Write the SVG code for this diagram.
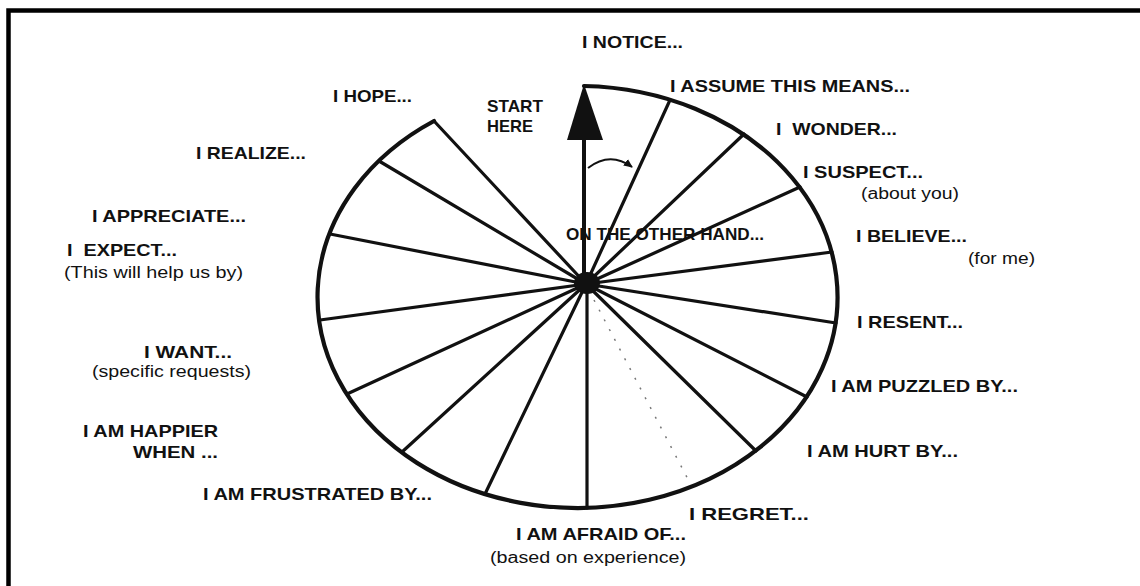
<svg xmlns="http://www.w3.org/2000/svg" width="1140" height="586" viewBox="0 0 1140 586">
<style>
.lb{font-family:"Liberation Sans",Arial,sans-serif;font-weight:bold;font-size:17px;fill:#111}
.sub{font-family:"Liberation Sans",Arial,sans-serif;font-size:16px;fill:#111}
.spoke{stroke:#111;stroke-width:3.2;stroke-linecap:round;fill:none}
.rim{stroke:#111;stroke-width:4.2;stroke-linecap:round;fill:none}
</style>
<defs>
<marker id="ah" markerUnits="userSpaceOnUse" markerWidth="10" markerHeight="10" refX="8" refY="5" orient="auto">
<path d="M0,1 L9,5 L0,9 z" fill="#111"/>
</marker>
</defs>
<rect width="1140" height="586" fill="#fff"/>
<path d="M8.5,586 V10.5 H1140" stroke="#000" stroke-width="4.5" fill="none"/>

<g id="n-otherhand"><text class="lb" x="566" y="240" textLength="198" lengthAdjust="spacingAndGlyphs">ON THE OTHER HAND...</text></g>

<g id="wheel">
<path class="rim" d="M584,86 A260,211 0 1,1 434,121"/>
</g>

<g id="connectors">
<line class="spoke" x1="584" y1="284" x2="584" y2="138" style="stroke-width:4"/>
<path d="M584,84 L567,140 L603,140 Z" fill="#111"/>
<line class="spoke" x1="586" y1="284" x2="670" y2="100"/>
<line class="spoke" x1="586" y1="284" x2="744" y2="134"/>
<line class="spoke" x1="586" y1="284" x2="800" y2="187"/>
<line class="spoke" x1="586" y1="284" x2="832" y2="252"/>
<line class="spoke" x1="586" y1="284" x2="836" y2="323"/>
<line class="spoke" x1="586" y1="284" x2="807" y2="397"/>
<line class="spoke" x1="586" y1="284" x2="756" y2="451"/>
<line class="spoke" x1="587" y1="284" x2="587" y2="508"/>
<line class="spoke" x1="586" y1="284" x2="485" y2="494"/>
<line class="spoke" x1="586" y1="284" x2="402" y2="452"/>
<line class="spoke" x1="586" y1="284" x2="347" y2="394"/>
<line class="spoke" x1="586" y1="284" x2="320" y2="320"/>
<line class="spoke" x1="586" y1="284" x2="330" y2="234"/>
<line class="spoke" x1="586" y1="284" x2="379" y2="161"/>
<line class="spoke" x1="586" y1="284" x2="434" y2="121"/>
<line x1="594" y1="300" x2="691" y2="485" stroke="#777" stroke-width="1.5" stroke-dasharray="2 9"/>
<path d="M588,168 Q610,151 632,167" stroke="#111" stroke-width="2" fill="none" marker-end="url(#ah)"/>
<ellipse cx="587" cy="283" rx="13" ry="11" fill="#111"/>
</g>

<g id="n-notice"><text class="lb" x="582" y="48" textLength="101" lengthAdjust="spacingAndGlyphs">I NOTICE...</text></g>
<g id="n-assume"><text class="lb" x="670" y="92" textLength="240" lengthAdjust="spacingAndGlyphs">I ASSUME THIS MEANS...</text></g>
<g id="n-wonder"><text class="lb" x="776" y="135" textLength="121" lengthAdjust="spacingAndGlyphs" xml:space="preserve">I  WONDER...</text></g>
<g id="n-suspect"><text class="lb" x="803" y="178" textLength="120" lengthAdjust="spacingAndGlyphs">I SUSPECT...</text>
<text class="sub" x="861" y="199" textLength="98" lengthAdjust="spacingAndGlyphs">(about you)</text></g>
<g id="n-believe"><text class="lb" x="856" y="242" textLength="111" lengthAdjust="spacingAndGlyphs">I BELIEVE...</text>
<text class="sub" x="968" y="264" textLength="67" lengthAdjust="spacingAndGlyphs">(for me)</text></g>
<g id="n-resent"><text class="lb" x="857" y="328" textLength="106" lengthAdjust="spacingAndGlyphs">I RESENT...</text></g>
<g id="n-puzzled"><text class="lb" x="831" y="392" textLength="187" lengthAdjust="spacingAndGlyphs">I AM PUZZLED BY...</text></g>
<g id="n-hurt"><text class="lb" x="807" y="457" textLength="151" lengthAdjust="spacingAndGlyphs">I AM HURT BY...</text></g>
<g id="n-regret"><text class="lb" x="689" y="520" textLength="120" lengthAdjust="spacingAndGlyphs">I REGRET...</text></g>
<g id="n-afraid"><text class="lb" x="516" y="540" textLength="170" lengthAdjust="spacingAndGlyphs">I AM AFRAID OF...</text>
<text class="sub" x="490" y="563" textLength="196" lengthAdjust="spacingAndGlyphs">(based on experience)</text></g>
<g id="n-frustrated"><text class="lb" x="203" y="500" textLength="229" lengthAdjust="spacingAndGlyphs">I AM FRUSTRATED BY...</text></g>
<g id="n-happier"><text class="lb" x="83" y="437" textLength="135" lengthAdjust="spacingAndGlyphs">I AM HAPPIER</text>
<text class="lb" x="133" y="458" textLength="85" lengthAdjust="spacingAndGlyphs">WHEN ...</text></g>
<g id="n-want"><text class="lb" x="144" y="358" textLength="88" lengthAdjust="spacingAndGlyphs">I WANT...</text>
<text class="sub" x="92" y="377" textLength="159" lengthAdjust="spacingAndGlyphs">(specific requests)</text></g>
<g id="n-expect"><text class="lb" x="67" y="256" textLength="110" lengthAdjust="spacingAndGlyphs" xml:space="preserve">I  EXPECT...</text>
<text class="sub" x="64" y="278" textLength="179" lengthAdjust="spacingAndGlyphs">(This will help us by)</text></g>
<g id="n-appreciate"><text class="lb" x="92" y="222" textLength="154" lengthAdjust="spacingAndGlyphs">I APPRECIATE...</text></g>
<g id="n-realize"><text class="lb" x="196" y="159" textLength="110" lengthAdjust="spacingAndGlyphs">I REALIZE...</text></g>
<g id="n-hope"><text class="lb" x="333" y="102" textLength="79" lengthAdjust="spacingAndGlyphs">I HOPE...</text></g>
<g id="n-start"><text class="lb" x="487" y="112" textLength="56" lengthAdjust="spacingAndGlyphs">START</text>
<text class="lb" x="487" y="132" textLength="46" lengthAdjust="spacingAndGlyphs">HERE</text></g>
</svg>
